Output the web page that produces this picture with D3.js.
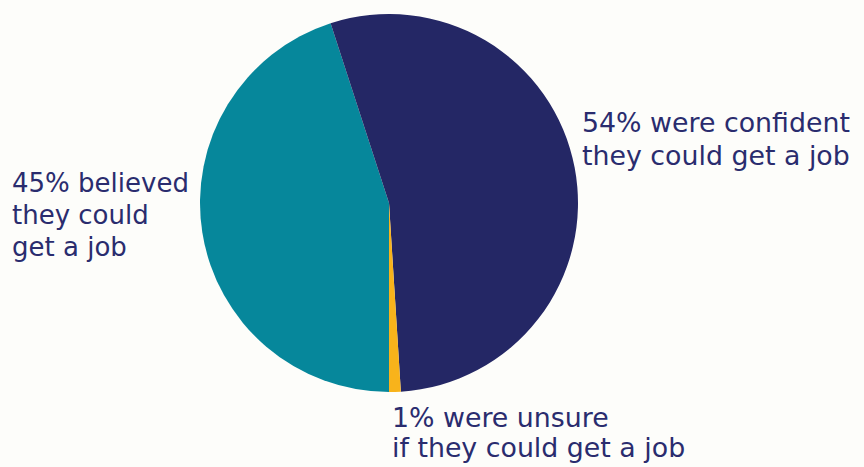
<!DOCTYPE html>
<html><head><meta charset="utf-8">
<script src="https://cdn.jsdelivr.net/npm/d3@7"></script>
<style>html,body{margin:0;padding:0;background:#fdfdfa;}svg{display:block;}</style>
</head><body>
<svg id="c" width="864" height="467"></svg>
<script>
const categories = ["believed", "confident", "unsure"];
const values = [45, 54, 1];
const colors = ["#06879b", "#242765", "#f8b31b"];
const labels = [
  ["45% believed", "they could", "get a job"],
  ["54% were confident", "they could get a job"],
  ["1% were unsure", "if they could get a job"]
];

const svg = d3.select("#c");
const cx = 389, cy = 203, r = 189;
const pie = d3.pie().sort(null).startAngle(Math.PI).endAngle(3 * Math.PI);
const arc = d3.arc().innerRadius(0).outerRadius(r);
const g = svg.append("g").attr("transform", `translate(${cx},${cy})`);
g.selectAll("path").data(pie(values)).join("path")
  .attr("d", arc).attr("fill", (d, i) => colors[i]);

const pos = [
  {x: 12, y: 192, dy: 32},
  {x: 582, y: 132, dy: 33},
  {x: 392, y: 427, dy: 30}
];
const sizes = [26, 26.8, 26.8];
labels.forEach((lines, i) => {
  const t = svg.append("text").attr("x", pos[i].x).attr("y", pos[i].y)
    .attr("fill", "#2a2c6e").attr("font-family", "DejaVu Sans, sans-serif")
    .attr("font-size", sizes[i]);
  lines.forEach((l, j) => t.append("tspan").attr("x", pos[i].x).attr("y", pos[i].y + j * pos[i].dy).text(l));
});
</script>
</body></html>
